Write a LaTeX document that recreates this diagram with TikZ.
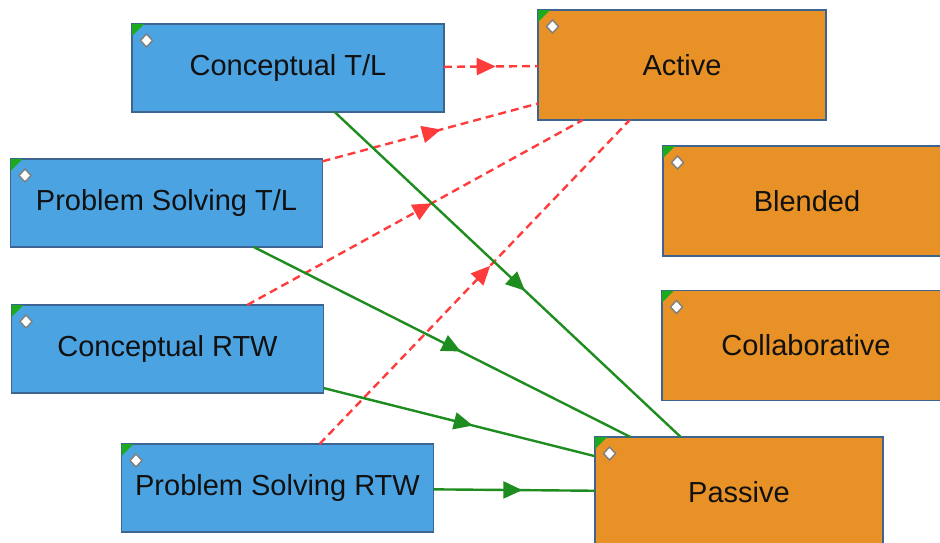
\documentclass[tikz,border=0pt]{standalone}
\usepackage{fontspec}
\setmainfont{Liberation Sans}
\usetikzlibrary{arrows.meta,decorations.markings,calc}
\definecolor{boxblue}{RGB}{75,163,226}
\definecolor{boxorange}{RGB}{232,145,38}
\definecolor{boxborder}{RGB}{62,100,145}
\definecolor{lgreen}{RGB}{30,140,30}
\definecolor{lred}{RGB}{255,60,60}
\definecolor{cornergreen}{RGB}{30,170,30}
\definecolor{txt}{RGB}{17,17,17}
\tikzset{
  basebox/.style={draw=boxborder, line width=1.2pt, rectangle, inner sep=0pt, outer sep=0pt,
    text=txt, font=\fontsize{29}{32}\selectfont},
  bluebox/.style={basebox, fill=boxblue, minimum width=312pt, minimum height=88pt},
  orangebox/.style={basebox, fill=boxorange, minimum width=288pt, minimum height=110pt},
  midarrow/.style={postaction={decorate}, decoration={markings,
     mark=at position 0.55 with {\arrow{Triangle[length=19pt,width=17pt]}}}},
  passiveline/.style={draw=lgreen, line width=2.4pt, midarrow},
  activeline/.style={draw=lred, line width=2.4pt, dash pattern=on 8pt off 5pt, midarrow},
  diamondmark/.style={fill=white, draw=gray, line width=1.4pt}
}
\begin{document}
\begin{tikzpicture}[x=1pt,y=-1pt]
\useasboundingbox (0,0) rectangle (940,542);
\clip (0,0) rectangle (940,542);
\node[bluebox] (ctl) at (288,68) {Conceptual T/L};
\node[bluebox] (pstl) at (166.5,203) {Problem Solving T/L};
\node[bluebox] (crtw) at (167.5,349) {Conceptual RTW};
\node[bluebox] (psrtw) at (277.5,488) {Problem Solving RTW};
\node[orangebox] (active) at (682,65) {Active};
\node[orangebox] (blended) at (807,201) {Blended};
\node[orangebox] (collab) at (806,345.5) {Collaborative};
\node[orangebox] (passive) at (739,492) {Passive};
\foreach \n in {ctl,pstl,crtw,psrtw,active,blended,collab,passive}{
  \fill[cornergreen] (\n.north west) -- ++(12,0) -- ++(-12,12) -- cycle;
  \draw[diamondmark] ($(\n.north west)+(14.5,10)$) -- ++(6,6.5) -- ++(-6,6.5) -- ++(-6,-6.5) -- cycle;
}
\draw[activeline] (ctl) -- (active);
\draw[activeline] (pstl) -- (active);
\draw[activeline] (crtw) -- (active);
\draw[activeline] (psrtw) -- (active);
\draw[passiveline] (ctl) -- (passive);
\draw[passiveline] (pstl) -- (passive);
\draw[passiveline] (crtw) -- (passive);
\draw[passiveline] (psrtw) -- (passive);
\end{tikzpicture}
\end{document}
